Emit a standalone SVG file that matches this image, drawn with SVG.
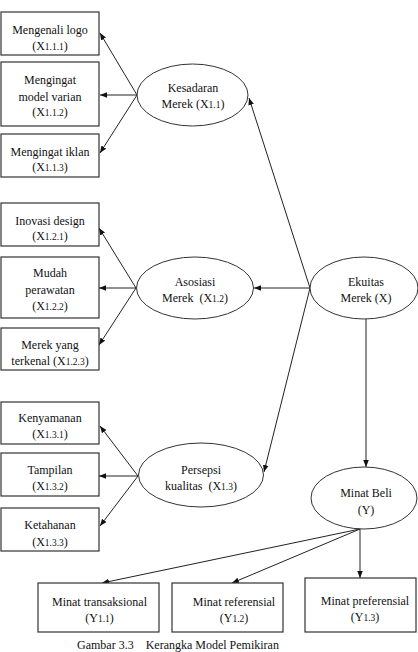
<svg xmlns="http://www.w3.org/2000/svg" width="418" height="652" viewBox="0 0 418 652">
<defs>
<marker id="ah" viewBox="0 0 10 10" refX="10" refY="5" markerWidth="7" markerHeight="7" markerUnits="userSpaceOnUse" orient="auto">
<path d="M0,1 L10,5 L0,9 z" fill="#111"/>
</marker>
<style>
.box{fill:#fff;stroke:#333;stroke-width:1.2}
.ell{fill:#fff;stroke:#333;stroke-width:1}
text{font-family:'Liberation Serif','Times New Roman',Times,serif;font-size:12px;fill:#111;text-anchor:middle}
.s{font-size:9.5px}
.c{fill:none;stroke:#222;stroke-width:1;marker-end:url(#ah)}
</style>
</defs>
<rect width="418" height="652" fill="#fff"/>
<g id="connectors">
<line class="c" x1="137" y1="95" x2="100" y2="33"/>
<line class="c" x1="137" y1="95" x2="100" y2="95"/>
<line class="c" x1="137" y1="95" x2="100" y2="153"/>
<line class="c" x1="136" y1="288" x2="99" y2="228"/>
<line class="c" x1="136" y1="288" x2="99" y2="288"/>
<line class="c" x1="136" y1="288" x2="99" y2="345"/>
<line class="c" x1="138" y1="476" x2="100" y2="426"/>
<line class="c" x1="138" y1="476" x2="99" y2="476"/>
<line class="c" x1="138" y1="476" x2="100" y2="526"/>
<line class="c" x1="310" y1="288" x2="249" y2="98"/>
<line class="c" x1="310" y1="288" x2="254" y2="288"/>
<line class="c" x1="310" y1="288" x2="264" y2="472"/>
<line class="c" x1="366" y1="319" x2="366" y2="467"/>
<line class="c" x1="360" y1="529" x2="102" y2="583"/>
<line class="c" x1="360" y1="529" x2="232" y2="583"/>
<line class="c" x1="360" y1="529" x2="360" y2="578"/>
</g>
<g id="x111"><rect class="box" x="1" y="12" width="98" height="43"/><text x="50" y="34">Mengenali logo</text><text x="50" y="50">(X<tspan class="s">1.1.1</tspan>)</text></g>
<g id="x112"><rect class="box" x="1" y="62" width="98" height="64"/><text x="50" y="84">Mengingat</text><text x="50" y="101">model varian</text><text x="50" y="116">(X<tspan class="s">1.1.2</tspan>)</text></g>
<g id="x113"><rect class="box" x="1" y="134" width="98" height="43"/><text x="50" y="156">Mengingat iklan</text><text x="50" y="171">(X<tspan class="s">1.1.3</tspan>)</text></g>
<g id="x121"><rect class="box" x="1" y="203" width="98" height="43"/><text x="50" y="225">Inovasi design</text><text x="50" y="240">(X<tspan class="s">1.2.1</tspan>)</text></g>
<g id="x122"><rect class="box" x="1" y="257" width="98" height="61"/><text x="50" y="277">Mudah</text><text x="50" y="294">perawatan</text><text x="50" y="310">(X<tspan class="s">1.2.2</tspan>)</text></g>
<g id="x123"><rect class="box" x="1" y="328" width="98" height="42"/><text x="50" y="349">Merek yang</text><text x="50" y="365">terkenal (X<tspan class="s">1.2.3</tspan>)</text></g>
<g id="x131"><rect class="box" x="1" y="402" width="98" height="42"/><text x="50" y="422">Kenyamanan</text><text x="50" y="438">(X<tspan class="s">1.3.1</tspan>)</text></g>
<g id="x132"><rect class="box" x="1" y="453" width="98" height="43"/><text x="50" y="474">Tampilan</text><text x="50" y="490">(X<tspan class="s">1.3.2</tspan>)</text></g>
<g id="x133"><rect class="box" x="1" y="508" width="98" height="43"/><text x="50" y="529">Ketahanan</text><text x="50" y="546">(X<tspan class="s">1.3.3</tspan>)</text></g>
<g id="kesadaran"><ellipse class="ell" cx="192.500" cy="95" rx="55.500" ry="31"/><text x="193" y="92">Kesadaran</text><text x="193" y="108">Merek (X<tspan class="s">1.1</tspan>)</text></g>
<g id="asosiasi"><ellipse class="ell" cx="195" cy="288" rx="58.500" ry="31"/><text x="195" y="286">Asosiasi</text><text x="195" y="302" xml:space="preserve">Merek  (X<tspan class="s">1.2</tspan>)</text></g>
<g id="persepsi"><ellipse class="ell" cx="201" cy="475" rx="62.500" ry="32"/><text x="201" y="474">Persepsi</text><text x="201" y="490" xml:space="preserve">kualitas  (X<tspan class="s">1.3</tspan>)</text></g>
<g id="ekuitas"><ellipse class="ell" cx="364" cy="288" rx="54" ry="31"/><text x="366" y="286">Ekuitas</text><text x="366" y="302">Merek (X)</text></g>
<g id="minatbeli"><ellipse class="ell" cx="364" cy="498" rx="53" ry="31"/><text x="366" y="497">Minat Beli</text><text x="366" y="514">(Y)</text></g>
<g id="y11"><rect class="box" x="38" y="583" width="121" height="49"/><text x="99.500" y="606">Minat transaksional</text><text x="99.500" y="622">(Y<tspan class="s">1.1</tspan>)</text></g>
<g id="y12"><rect class="box" x="172" y="583" width="111" height="49"/><text x="234" y="606">Minat referensial</text><text x="234" y="622">(Y<tspan class="s">1.2</tspan>)</text></g>
<g id="y13"><rect class="box" x="305" y="578" width="111" height="54"/><text x="365" y="605">Minat preferensial</text><text x="365" y="621">(Y<tspan class="s">1.3</tspan>)</text></g>
<text x="77" y="649" style="text-anchor:start" xml:space="preserve">Gambar 3.3    Kerangka Model Pemikiran</text>
</svg>
